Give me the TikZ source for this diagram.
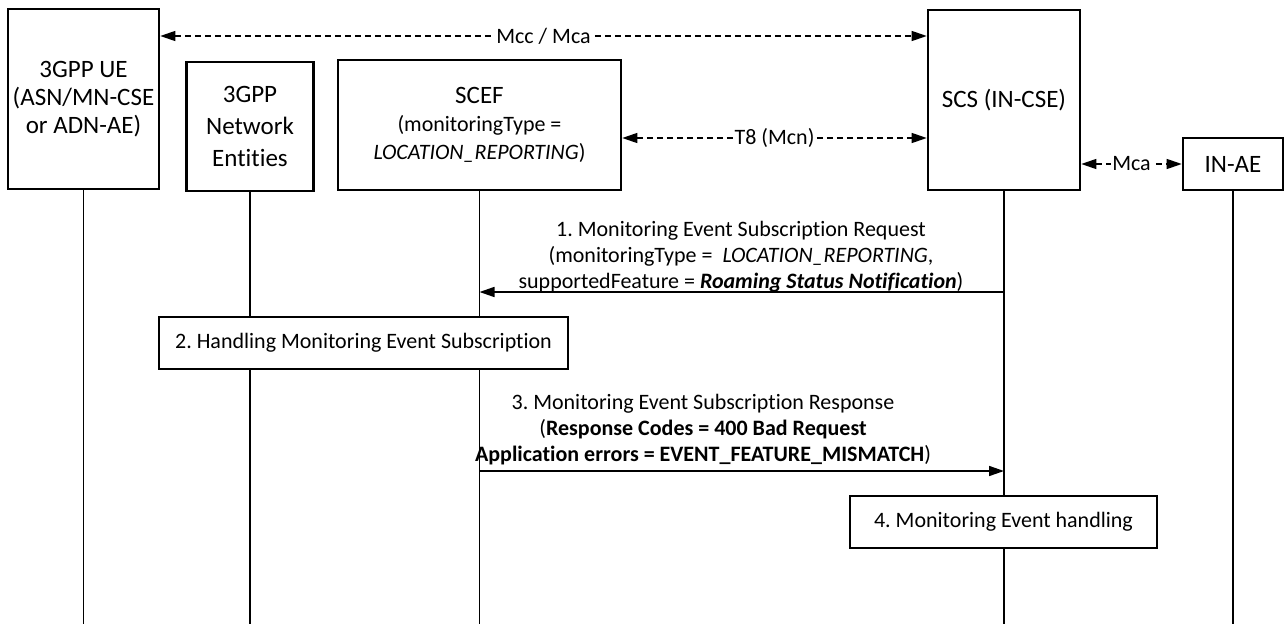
\documentclass[tikz,border=0pt]{standalone}
\usepackage{fontspec}
\setmainfont{Carlito}[Ligatures={NoCommon,NoRequired,NoContextual}]
\usetikzlibrary{arrows.meta}
\frenchspacing
\begin{document}
\begin{tikzpicture}[x=1pt,y=-1pt,
  part/.style={draw, line width=2.6pt, fill=white, align=center, inner sep=0pt, font=\fontsize{25}{28}\selectfont},
  act/.style={draw, line width=2pt, fill=white, align=center, inner sep=0pt, font=\fontsize{22}{26}\selectfont},
  life/.style={line width=1.2pt},
  msg/.style={line width=1.6pt, -{Triangle[length=15pt,width=10pt]}},
  dasharrow/.style={line width=1.3pt, dash pattern=on 6pt off 4pt, {Triangle[length=15pt,width=10pt]}-{Triangle[length=15pt,width=10pt]}},
  lbl/.style={fill=white, inner sep=1pt, font=\fontsize{22}{26}\selectfont},
  msglbl/.style={align=center, inner sep=0pt, font=\fontsize{22}{26}\selectfont}]
\useasboundingbox (0,0) rectangle (1285,624);
\coordinate (bot) at (0,624);
\coordinate (mccy) at (0,36);
\coordinate (t8y) at (0,138);
\coordinate (m1) at (0,292);
\coordinate (m3) at (0,471);

\node[part, minimum width=151pt, minimum height=180pt] (ue) at (83.5,99) {3GPP UE\\(ASN/MN-CSE\\or ADN-AE)};
\node[part, minimum width=127pt, minimum height=129pt, font=\fontsize{25}{32}\selectfont] (ne) at (250,126.5) {3GPP\\Network\\Entities};
\node[part, minimum width=283pt, minimum height=130pt] (scef) at (479.5,125) {SCEF\\{\fontsize{22}{28}\selectfont(monitoringType =}\\{\fontsize{22}{28}\selectfont{\itshape LOCATION\_REPORTING})}};
\node[part, minimum width=152pt, minimum height=180pt] (scs) at (1004,100) {SCS (IN-CSE)};
\node[part, minimum width=100pt, minimum height=52pt] (inae) at (1233,164) {IN-AE};

\foreach \n in {ue,ne,scef,scs,inae} \draw[life] (\n.south) -- (\n.south |- bot);

\draw[dasharrow] (ue.east |- mccy) -- node[lbl] (mcclbl) {Mcc / Mca} (scs.west |- mccy);
\draw[dasharrow] (scef.east |- t8y) -- node[lbl] (t8lbl) {T8 (Mcn)} (scs.west |- t8y);
\draw[dasharrow] (scs.east |- inae.west) -- node[lbl] (mcalbl) {Mca} (inae.west);

\node[msglbl] (t1) at (741,256.5) {1. Monitoring Event Subscription Request\\(monitoringType =\ \ {\itshape LOCATION\_REPORTING},\\supportedFeature = \textbf{\textit{Roaming Status Notification}})};
\draw[msg] (scs.south |- m1) -- (scef.south |- m1);

\node[act, minimum width=409pt, minimum height=52pt] (h2) at (363.5,343) {2. Handling Monitoring Event Subscription};

\node[msglbl] (t3) at (703,430) {3. Monitoring Event Subscription Response\\(\textbf{Response Codes = 400 Bad Request}\\\textbf{Application errors = EVENT\_FEATURE\_MISMATCH})};
\draw[msg] (scef.south |- m3) -- (scs.south |- m3);

\node[act, minimum width=307pt, minimum height=52pt] (h4) at (1003.5,522) {4. Monitoring Event handling};
\end{tikzpicture}
\end{document}
